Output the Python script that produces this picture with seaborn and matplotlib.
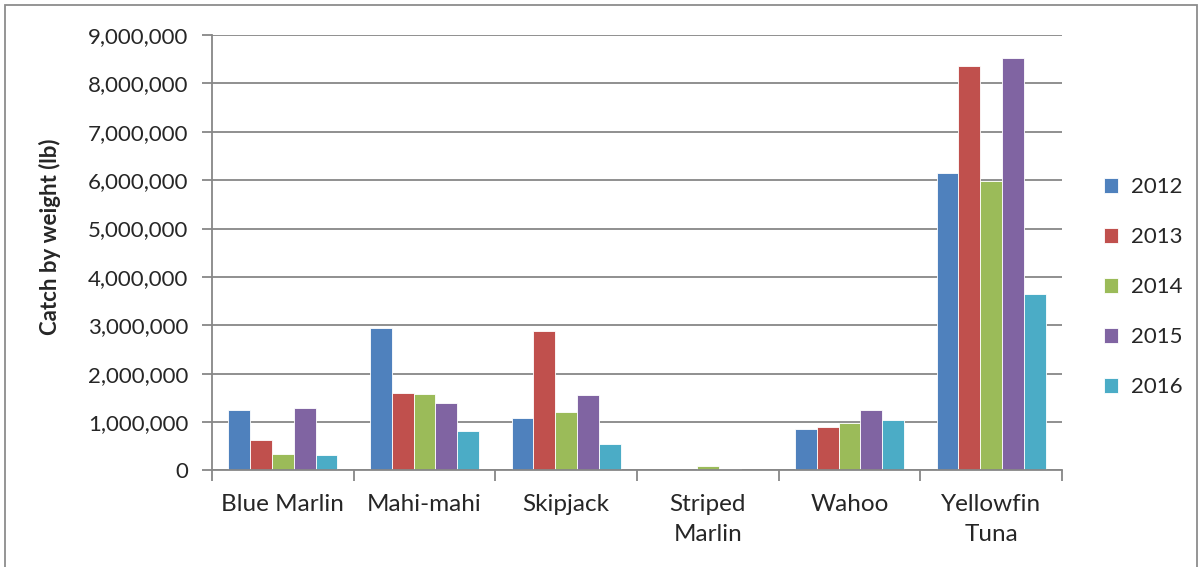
import pandas as pd
import numpy as np
import seaborn as sns
import matplotlib.pyplot as plt
from matplotlib.ticker import FuncFormatter, FixedLocator
from matplotlib.patches import Rectangle

# Data
species = ["Blue Marlin", "Mahi-mahi", "Skipjack", "Striped\nMarlin", "Wahoo", "Yellowfin\nTuna"]
years = ["2012", "2013", "2014", "2015", "2016"]
catch_2012 = [1250000, 2940000, 1080000, 20000, 850000, 6140000]
catch_2013 = [620000, 1610000, 2880000, 20000, 900000, 8360000]
catch_2014 = [350000, 1590000, 1200000, 90000, 990000, 5980000]
catch_2015 = [1300000, 1390000, 1570000, 40000, 1260000, 8520000]
catch_2016 = [330000, 810000, 540000, 10000, 1040000, 3640000]
colors = ["#4F81BD", "#C0504D", "#9BBB59", "#8064A2", "#4BACC6"]

series = [catch_2012, catch_2013, catch_2014, catch_2015, catch_2016]
rows = []
for yr, vals in zip(years, series):
    for sp, v in zip(species, vals):
        rows.append({"species": sp, "year": yr, "catch": v})
df = pd.DataFrame(rows)

sns.set_style("white")
plt.rcParams["font.family"] = ["Lato", "DejaVu Sans"]

fig = plt.figure(figsize=(12.03, 5.67), dpi=100)
ax = fig.add_axes([0.1762, 0.1702, 0.7066, 0.768])

sns.barplot(data=df, x="species", y="catch", hue="year", palette=colors,
            width=0.77, gap=0, ax=ax, edgecolor="white", linewidth=0.6,
            saturation=1)

grid_c = "#878787"
ax.set_ylim(0, 9000000)
ax.set_xlim(-0.5, len(species) - 0.5)
ax.set_yticks(np.arange(0, 9000001, 1000000))
ax.yaxis.set_major_formatter(FuncFormatter(lambda v, p: f"{int(v):,}"))
ax.yaxis.grid(True, color=grid_c, linewidth=1.3)
ax.set_axisbelow(True)
for s in ["top", "right"]:
    ax.spines[s].set_visible(False)
for s in ["left", "bottom"]:
    ax.spines[s].set_color(grid_c)
    ax.spines[s].set_linewidth(1.3)

# tick marks: y outward, x at category boundaries
ax.tick_params(axis="y", which="major", direction="out", length=7, width=1.3,
               color=grid_c, labelsize=16, pad=10, left=True)
ax.tick_params(axis="x", which="major", length=0, labelsize=17.5, pad=17)
for lab in ax.get_xticklabels():
    lab.set_linespacing(1.55)
ax.xaxis.set_minor_locator(FixedLocator(np.arange(-0.5, len(species), 1.0)))
ax.tick_params(axis="x", which="minor", direction="out", length=8, width=1.3,
               color=grid_c, bottom=True)

ax.set_xlabel("")
ax.set_ylabel("Catch by weight (lb)", fontsize=16, fontweight="bold")
ax.yaxis.set_label_coords(-0.178, 0.536)

leg = ax.legend(loc="center left", bbox_to_anchor=(0.901, 0.494),
                bbox_transform=fig.transFigure, frameon=False, fontsize=16,
                handlelength=0.65, handleheight=0.65, labelspacing=1.35,
                handletextpad=0.55)

# outer chart border
fig.patches.append(Rectangle((5 / 1203, -0.1), 1192 / 1203, 1.1 - 5 / 567,
                             transform=fig.transFigure, fill=False,
                             edgecolor="#8c8c8c", linewidth=1.3))

plt.savefig("out.png", dpi=100)
